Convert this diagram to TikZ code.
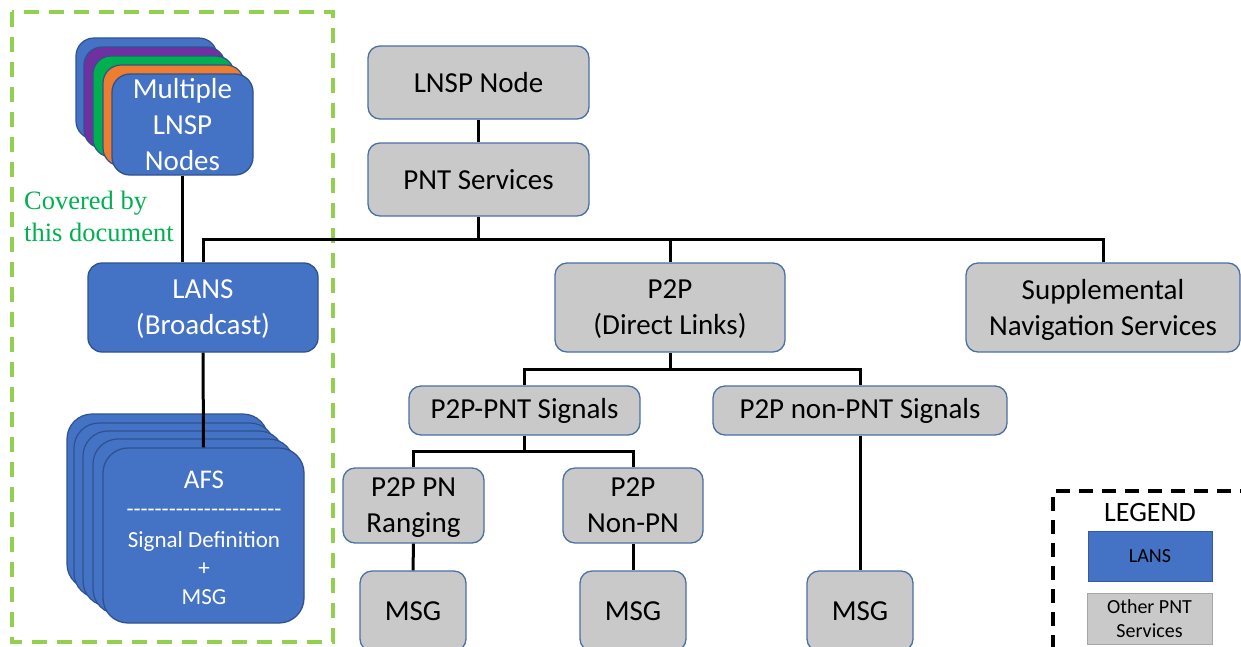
\documentclass[tikz,border=0pt]{standalone}
\usepackage{fontspec}
\setmainfont{Carlito}
\newfontfamily\covfont{Liberation Serif}
\definecolor{lansblue}{HTML}{4472C4}
\definecolor{edgeblue}{HTML}{2F528F}
\definecolor{boxgray}{HTML}{C9C9C9}
\definecolor{grayedge}{HTML}{4A6FA5}
\definecolor{covgreen}{HTML}{00B050}
\definecolor{dashgreen}{HTML}{92D050}
\definecolor{lpurple}{HTML}{7030A0}
\definecolor{lgreen}{HTML}{00B050}
\definecolor{lorange}{HTML}{ED7D31}
\tikzset{
  mainfont/.style={font=\fontsize{29}{36}\selectfont},
  graybox/.style={rectangle, rounded corners=12pt, fill=boxgray, draw=grayedge, line width=1.3pt,
    text=black, align=center, inner sep=0pt, mainfont},
  bluebox/.style={rectangle, rounded corners=14pt, fill=lansblue, draw=edgeblue, line width=1.3pt,
    text=white, align=center, inner sep=0pt, mainfont},
  twoline/.style={text depth=0pt},
  layer/.style={rounded corners=#1, draw=edgeblue, line width=1.2pt},
  conn/.style={draw=black, line width=3pt},
}
\begin{document}
\begin{tikzpicture}[x=1pt,y=-1pt]
\useasboundingbox (0,0) rectangle (1241,646);
\clip (0,0) rectangle (1241,646);

% green dashed region
\draw[dashgreen, line width=4pt, dash pattern=on 15pt off 10pt] (12,12) rectangle (333,642);

% Multiple LNSP nodes stack
\draw[layer=18pt, fill=lansblue] (76,38) rectangle ++(141,101);
\draw[layer=18pt, fill=lpurple] (84,47) rectangle ++(141,101);
\draw[layer=18pt, fill=lgreen] (93,56) rectangle ++(141,101);
\draw[layer=18pt, fill=lorange] (103,65) rectangle ++(141,101);
\node[bluebox, rounded corners=18pt, minimum width=141pt, minimum height=101pt] (mln) at (182.5,124.5) {Multiple\\LNSP\\Nodes};

\node[text=covgreen, font=\covfont\fontsize{26.5}{32}\selectfont, align=left, anchor=west, inner sep=0pt] (cov) at (24,216) {Covered by\\this document};

% AFS stack
\draw[layer=25pt, fill=lansblue] (67,414) rectangle ++(201,175);
\draw[layer=25pt, fill=lansblue] (74,423) rectangle ++(201,175);
\draw[layer=25pt, fill=lansblue] (83,431) rectangle ++(201,175);
\draw[layer=25pt, fill=lansblue] (93,439) rectangle ++(201,175);
\node[bluebox, rounded corners=25pt, minimum width=201pt, minimum height=175pt] (afs) at (203.5,535.5) {};
\node[text=white, font=\fontsize{27}{32}\selectfont, inner sep=0pt] (afst) at (204,480) {AFS};
\node[text=white, font=\fontsize{23}{28}\selectfont, inner sep=0pt] (afsd) at (204,513) {-{}-{}-{}-{}-{}-{}-{}-{}-{}-{}-{}-{}-{}-{}-{}-{}-{}-{}-{}-{}-{}-{}};
\node[text=white, font=\fontsize{23}{28.5}\selectfont, align=center, inner sep=0pt] (afsb) at (204,568) {Signal Definition\\+\\MSG};

% main nodes
\node[graybox, minimum width=221pt, minimum height=73pt] (lnsp) at (478.5,82.5) {LNSP Node};
\node[graybox, minimum width=221pt, minimum height=73pt] (pnt) at (478.5,179.5) {PNT Services};
\node[bluebox, twoline, minimum width=230pt, minimum height=89pt] (lans) at (203,307.5) {LANS\\(Broadcast)};
\node[graybox, twoline, minimum width=230pt, minimum height=89pt] (p2p) at (670,307.5) {P2P\\(Direct Links)};
\node[graybox, twoline, minimum width=274pt, minimum height=89pt] (supp) at (1103,307.5) {Supplemental\\Navigation Services};
\node[graybox, minimum width=231pt, minimum height=49pt] (pnts) at (524.5,410.5) {P2P-PNT Signals};
\node[graybox, minimum width=294pt, minimum height=49pt] (npnts) at (860,410.5) {P2P non-PNT Signals};
\node[graybox, twoline, minimum width=141pt, minimum height=75pt] (rang) at (413.5,505.5) {P2P PN\\Ranging};
\node[graybox, twoline, minimum width=140pt, minimum height=75pt] (nonpn) at (633,505.5) {P2P\\Non-PN};
\node[graybox, minimum width=106pt, minimum height=80pt] (msga) at (413,611) {MSG};
\node[graybox, minimum width=106pt, minimum height=80pt] (msgb) at (633,611) {MSG};
\node[graybox, minimum width=106pt, minimum height=80pt] (msgc) at (860,611) {MSG};

% connectors
\coordinate (busa) at (478.5,239);
\coordinate (busb) at (670,369);
\coordinate (busc) at (524.5,451);
\draw[conn] (lnsp.south) -- (pnt.north);
\draw[conn] (pnt.south) -- (busa);
\draw[conn] (lans.north) |- (busa) -| (supp.north);
\draw[conn] (busa -| p2p.north) -- (p2p.north);
\draw[conn] (mln.south) -- (mln.south |- lans.north);
\draw[conn] (lans.south) -- (afs.north);
\draw[conn] (p2p.south) -- (busb);
\draw[conn] (pnts.north) |- (busb) -| (npnts.north);
\draw[conn] (pnts.south) -- (busc);
\draw[conn] (rang.north) |- (busc) -| (nonpn.north);
\draw[conn] (rang.south) -- (msga.north);
\draw[conn] (nonpn.south) -- (msgb.north);
\draw[conn] (npnts.south) -- (msgc.north);

% legend
\draw[black, line width=4pt, dash pattern=on 14pt off 9pt] (1300,491) -- (1053,491) -- (1053,700);
\node[font=\fontsize{28}{33}\selectfont, inner sep=0pt] (legt) at (1150,512) {LEGEND};
\node[rectangle, fill=lansblue, draw=lansblue!80!black, line width=0.8pt, minimum width=124pt, minimum height=50pt, inner sep=0pt, font=\fontsize{20}{24}\selectfont] (leglans) at (1150,556) {LANS};
\node[rectangle, fill=boxgray, draw=gray!70, line width=0.8pt, minimum width=125pt, minimum height=51pt, inner sep=0pt, align=center, font=\fontsize{20}{24}\selectfont] (leggray) at (1149.5,618.5) {Other PNT\\Services};
\end{tikzpicture}
\end{document}
